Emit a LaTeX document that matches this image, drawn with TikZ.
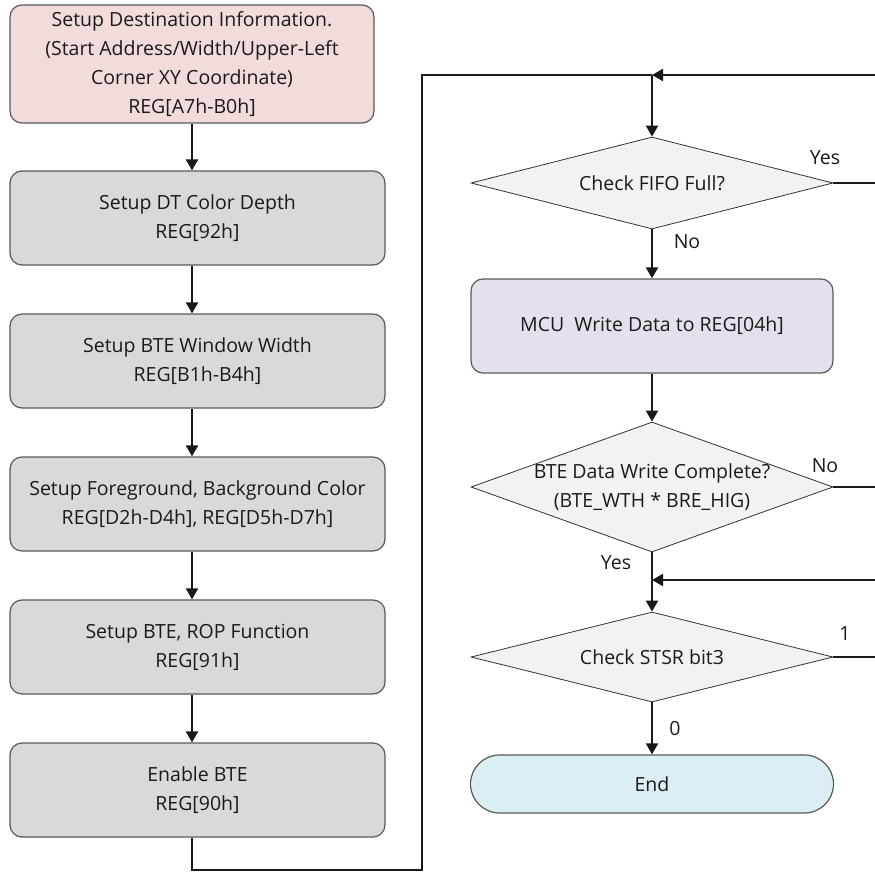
\documentclass[tikz,border=0pt]{standalone}
\usepackage{fontspec}
\setmainfont{Open Sans}
\usetikzlibrary{shapes.geometric,arrows.meta}
\definecolor{pinkfill}{HTML}{F2DCDB}
\definecolor{grayfill}{HTML}{D9D9D9}
\definecolor{decfill}{HTML}{F2F2F2}
\definecolor{mcufill}{HTML}{E6E0EC}
\definecolor{endfill}{HTML}{DAEEF3}
\definecolor{edgegray}{HTML}{595959}
\definecolor{txtgray}{HTML}{1A1A1A}

\begin{document}
\begin{tikzpicture}[
  x=1pt, y=-1pt,
  every node/.style={font=\fontsize{19.5}{29}\selectfont, text=txtgray},
  stepbox/.style={draw=edgegray, line width=1.2pt, rounded corners=12pt,
    fill=grayfill, minimum width=375pt, minimum height=94pt, align=center},
  decision/.style={diamond, draw=black!80, line width=0.8pt, fill=decfill,
    aspect=3, inner sep=-14pt, minimum width=362pt, align=center},
  conn/.style={draw=black!90, line width=2pt},
  arrow/.style={conn, -{Triangle[width=12pt,length=11pt]}},
  answer/.style={font=\fontsize{19.5}{22}\selectfont}
]
\useasboundingbox (0,0) rectangle (875,872);

% left column
\node[stepbox, fill=pinkfill, minimum width=364pt, minimum height=118pt] (dest) at (192,64)
  {Setup Destination Information.\\(Start Address/Width/Upper-Left\\Corner XY Coordinate)\\REG[A7h-B0h]};
\node[stepbox] (depth) at (197.5,218) {Setup DT Color Depth\\REG[92h]};
\node[stepbox] (width) at (197.5,361) {Setup BTE Window Width\\REG[B1h-B4h]};
\node[stepbox] (color) at (197.5,504) {Setup Foreground, Background Color\\REG[D2h-D4h], REG[D5h-D7h]};
\node[stepbox] (rop) at (197.5,647) {Setup BTE, ROP Function\\REG[91h]};
\node[stepbox] (enable) at (197.5,790) {Enable BTE\\REG[90h]};

% right column
\node[decision, minimum height=92pt] (fifo) at (652,183) {Check FIFO Full?};
\node[stepbox, fill=mcufill, minimum width=362pt] (mcu) at (652,326) {MCU\ \ Write Data to REG[04h]};
\node[decision, minimum height=130pt] (done) at (652,487) {BTE Data Write Complete?\\(BTE\_WTH * BRE\_HIG)};
\node[decision, minimum height=90pt] (stsr) at (652,657) {Check STSR bit3};
\node[stepbox, fill=endfill, minimum width=363pt, minimum height=58pt, rounded corners=29pt] (end) at (652,784) {End};

\coordinate (loop) at (652,75);
\coordinate (loopin) at (875,75);
\coordinate (fifoout) at (875,183);
\coordinate (doneout) at (875,487);
\coordinate (wait) at (652,580);
\coordinate (waitin) at (875,580);
\coordinate (stsrout) at (875,657);

% connectors
\draw[arrow] (dest) -- (dest.south |- depth.north);
\draw[arrow] (dest.south |- depth.south) -- (dest.south |- width.north);
\draw[arrow] (dest.south |- width.south) -- (dest.south |- color.north);
\draw[arrow] (dest.south |- color.south) -- (dest.south |- rop.north);
\draw[arrow] (dest.south |- rop.south) -- (dest.south |- enable.north);
\draw[conn] (dest.south |- enable.south) -- ++(0,32) -| (422,75) -- (loop);
\draw[arrow] (loopin) -- (loop);
\draw[arrow] (loop) -- (fifo.north);
\draw[conn] (fifo.east) -- (fifoout);
\draw[arrow] (fifo) -- (mcu);
\draw[arrow] (mcu) -- (done);
\draw[conn] (done.east) -- (doneout);
\draw[arrow] (done) -- (stsr);
\draw[arrow] (waitin) -- (wait);
\draw[conn] (stsr.east) -- (stsrout);
\draw[arrow] (stsr) -- (end);

% answers
\node[answer] (yes1) at (825,158) {Yes};
\node[answer] (no1) at (687,242) {No};
\node[answer] (no2) at (825,466) {No};
\node[answer] (yes2) at (616,563) {Yes};
\node[answer] (one) at (845,634) {1};
\node[answer] (zero) at (675,729) {0};
\end{tikzpicture}
\end{document}
